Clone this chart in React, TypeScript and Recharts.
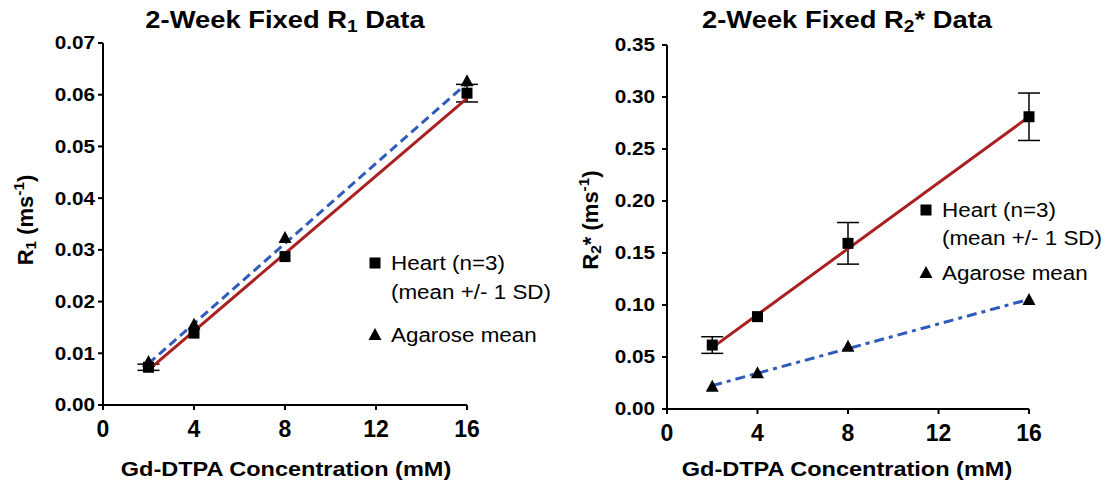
import { ComposedChart, Scatter, Line, XAxis, YAxis, ErrorBar, Legend } from 'recharts'

const concentrations = [2, 4, 8, 16]
const xTicks = [0, 4, 8, 12, 16]
const fitX = [2, 16]

// R1 panel
const heartR1 = [0.0073, 0.0139, 0.0287, 0.0603]
const heartR1Sd = [0.0006, 0, 0, 0.0017]
const agaroseR1 = [0.0083, 0.0155, 0.0323, 0.0626]
const heartR1Fit = [0.0068, 0.0593]
const agaroseR1Fit = [0.008, 0.0622]
const r1Ticks = [0, 0.01, 0.02, 0.03, 0.04, 0.05, 0.06, 0.07]

// R2* panel
const heartR2 = [0.0615, 0.0888, 0.1593, 0.281]
const heartR2Sd = [0.008, 0, 0.02, 0.0228]
const agaroseR2 = [0.0214, 0.0343, 0.0599, 0.1048]
const heartR2Fit = [0.059, 0.281]
const agaroseR2Fit = [0.0225, 0.1055]
const r2Ticks = [0, 0.05, 0.1, 0.15, 0.2, 0.25, 0.3, 0.35]

const legendHeart = ['Heart (n=3)', '(mean +/- 1 SD)']
const legendAgarose = 'Agarose mean'

const FONT = '"Liberation Sans", Arial, sans-serif'
const RED = '#a8201f'
const BLUE = '#2f5cbc'

const toPoints = (xs: number[], ys: number[], errs?: number[]) =>
  xs.map((x, i) => ({ x, y: ys[i], err: errs ? errs[i] : 0 }))

const SquareDot = (p: any) => <rect x={p.cx - 5.5} y={p.cy - 5.5} width={11} height={11} fill="#000" />
const TriangleDot = (p: any) => (
  <polygon points={`${p.cx},${p.cy - 7} ${p.cx + 6.5},${p.cy + 5} ${p.cx - 6.5},${p.cy + 5}`} fill="#000" />
)

const YTick = ({ x, y, payload }: any) => (
  <text transform={`translate(${x},${y}) scale(1.15,1)`} textAnchor="end" dominantBaseline="central"
    fontSize={18} fontWeight="bold" fontFamily={FONT} fill="#000">
    {Number(payload.value).toFixed(2)}
  </text>
)

const XTick = ({ x, y, payload }: any) => (
  <text x={x} y={y + 25} textAnchor="middle" fontSize={23} fontWeight="bold" fontFamily={FONT} fill="#000">
    {payload.value}
  </text>
)

function LegendBox({ markX, textX, y1, y2, y3 }: { markX: number; textX: number; y1: number; y2: number; y3: number }) {
  const txt = (top: number, s: string) => (
    <div style={{ position: 'absolute', left: textX, top, transform: 'translateY(-50%) scaleX(1.12)', transformOrigin: 'left center', fontFamily: FONT, fontSize: 20, whiteSpace: 'nowrap', color: '#000', lineHeight: 1 }}>
      {s}
    </div>
  )
  return (
    <div style={{ position: 'relative', width: 560, height: 483 }}>
      <svg style={{ position: 'absolute', left: 0, top: 0 }} width={560} height={483}>
        <SquareDot cx={markX} cy={y1} />
        <TriangleDot cx={markX} cy={y3} />
      </svg>
      {txt(y1, legendHeart[0])}
      {txt(y2, legendHeart[1])}
      {txt(y3, legendAgarose)}
    </div>
  )
}

function Panel(props: {
  heart: number[]; heartSd: number[]; agarose: number[]; heartFit: number[]; agaroseFit: number[]
  yTicks: number[]; margin: any; yWidth: number; xHeight: number; yMargin: number; dash: string
  legend: { markX: number; textX: number; y1: number; y2: number; y3: number }
}) {
  const heartPts = toPoints(concentrations, props.heart, props.heartSd)
  const agarosePts = toPoints(concentrations, props.agarose)
  const yMax = props.yTicks[props.yTicks.length - 1]
  return (
    <ComposedChart width={560} height={483} margin={props.margin}>
      <XAxis type="number" dataKey="x" domain={[0, 16]} ticks={xTicks} height={props.xHeight}
        axisLine={{ stroke: '#000', strokeWidth: 2 }} tickLine={{ stroke: '#000', strokeWidth: 2 }}
        tickSize={5} tickMargin={2} tick={<XTick />} />
      <YAxis type="number" domain={[0, yMax]} ticks={props.yTicks} width={props.yWidth}
        axisLine={{ stroke: '#000', strokeWidth: 2 }} tickLine={{ stroke: '#000', strokeWidth: 2 }}
        tickSize={5} tickMargin={props.yMargin} tick={<YTick />} interval={0} />
      <Legend layout="vertical" align="center" verticalAlign="middle"
        wrapperStyle={{ left: 0, top: 0, width: 560, height: 483 }}
        content={() => <LegendBox {...props.legend} />} />
      <Scatter data={heartPts} dataKey="y" shape={SquareDot} isAnimationActive={false}>
        <ErrorBar dataKey="err" direction="y" width={11} stroke="#000" strokeWidth={1.5} />
      </Scatter>
      <Scatter data={agarosePts} dataKey="y" shape={TriangleDot} isAnimationActive={false} />
      <Line data={toPoints(fitX, props.heartFit)} dataKey="y" type="linear" stroke={RED} strokeWidth={3}
        dot={false} activeDot={false} isAnimationActive={false} />
      <Line data={toPoints(fitX, props.agaroseFit)} dataKey="y" type="linear" stroke={BLUE} strokeWidth={3}
        strokeDasharray={props.dash} dot={false} activeDot={false} isAnimationActive={false} />
    </ComposedChart>
  )
}

const centered = (left: number, top: number, extra: any = {}) => ({
  position: 'absolute' as const, left, top, whiteSpace: 'nowrap' as const, fontFamily: FONT,
  fontWeight: 'bold' as const, color: '#000', lineHeight: 1, ...extra,
})

export default function App() {
  const sub = { fontSize: '0.7em', verticalAlign: '-0.25em' }
  const sup = { fontSize: '0.7em', verticalAlign: '0.55em' }
  return (
    <div style={{ position: 'absolute', left: 0, top: 0, width: 1120, height: 483, background: '#fff', overflow: 'hidden' }}>
      <div style={{ position: 'absolute', left: 0, top: 0 }}>
        <Panel heart={heartR1} heartSd={heartR1Sd} agarose={agaroseR1} heartFit={heartR1Fit} agaroseFit={agaroseR1Fit}
          yTicks={r1Ticks} margin={{ top: 43, right: 93, left: 0, bottom: 0 }} yWidth={103} xHeight={78} yMargin={3}
          dash="9 5" legend={{ markX: 375, textX: 391, y1: 263, y2: 292, y3: 335 }} />
      </div>
      <div style={{ position: 'absolute', left: 560, top: 0 }}>
        <Panel heart={heartR2} heartSd={heartR2Sd} agarose={agaroseR2} heartFit={heartR2Fit} agaroseFit={agaroseR2Fit}
          yTicks={r2Ticks} margin={{ top: 45, right: 91, left: 0, bottom: 0 }} yWidth={107} xHeight={74} yMargin={7}
          dash="10 5 4 5" legend={{ markX: 366, textX: 382, y1: 210, y2: 238, y3: 273 }} />
      </div>

      <div style={centered(285, 22, { fontSize: 24, transform: 'translate(-50%,-50%) scaleX(1.14)' })}>
        2-Week Fixed R<span style={sub}>1</span> Data
      </div>
      <div style={centered(847, 22, { fontSize: 24, transform: 'translate(-50%,-50%) scaleX(1.14)' })}>
        2-Week Fixed R<span style={sub}>2</span>* Data
      </div>
      <div style={centered(286, 468, { fontSize: 21, transform: 'translate(-50%,-50%) scaleX(1.12)' })}>
        Gd-DTPA Concentration (mM)
      </div>
      <div style={centered(847, 468, { fontSize: 21, transform: 'translate(-50%,-50%) scaleX(1.12)' })}>
        Gd-DTPA Concentration (mM)
      </div>
      <div style={centered(25, 220, { fontSize: 22, transform: 'translate(-50%,-50%) rotate(-90deg)' })}>
        R<span style={sub}>1</span> (ms<span style={sup}>-1</span>)
      </div>
      <div style={centered(590, 220, { fontSize: 22, transform: 'translate(-50%,-50%) rotate(-90deg)' })}>
        R<span style={sub}>2</span>* (ms<span style={sup}>-1</span>)
      </div>
    </div>
  )
}
